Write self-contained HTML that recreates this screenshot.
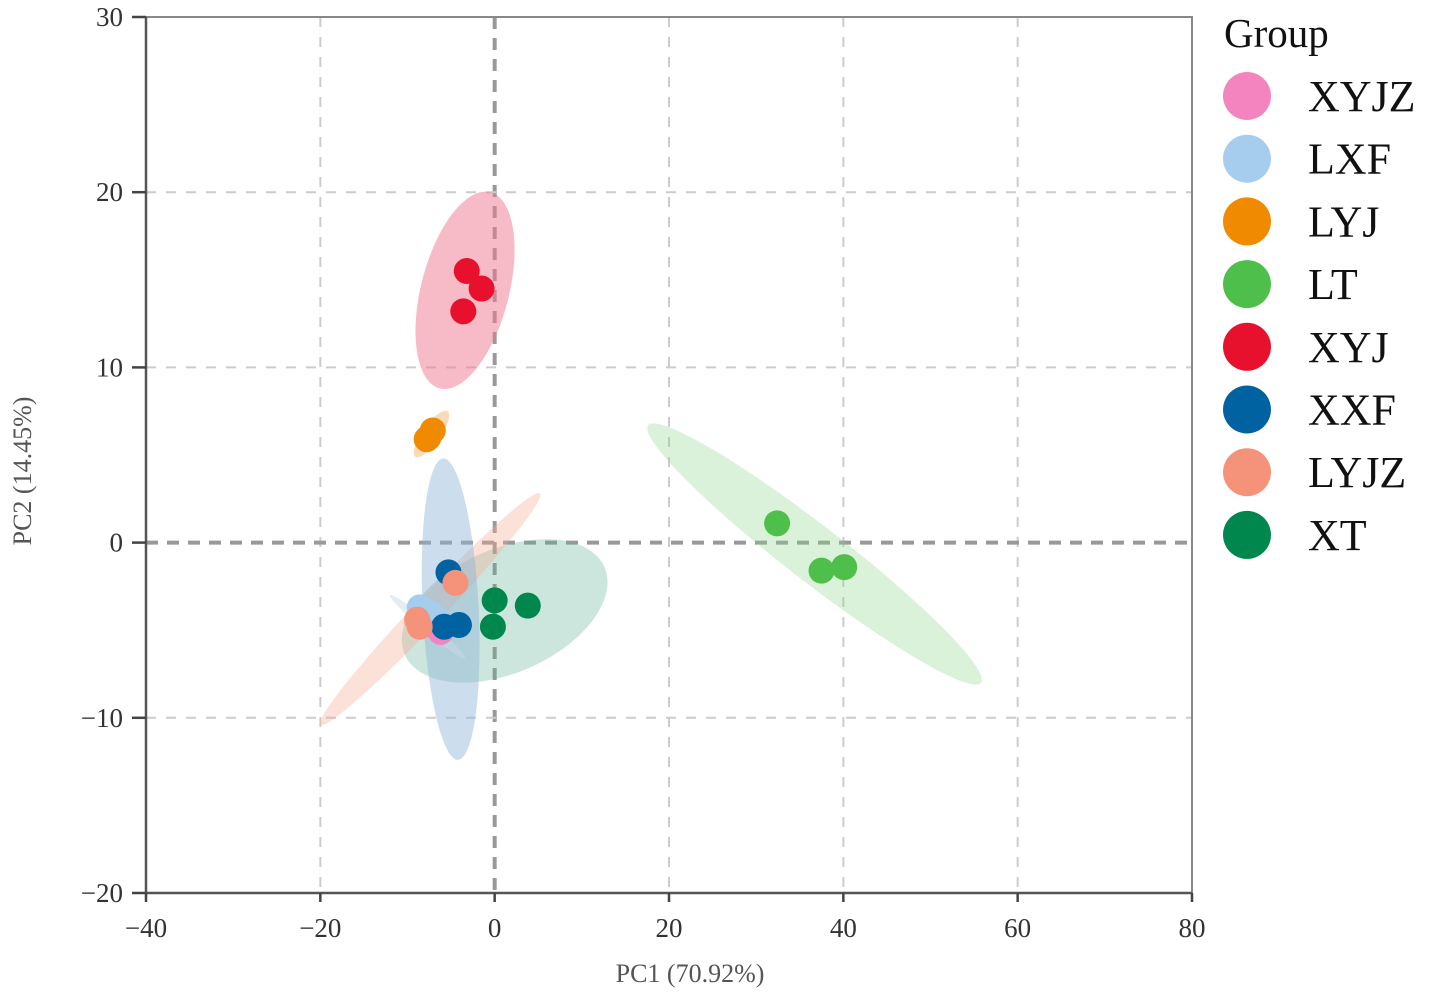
<!DOCTYPE html>
<html><head><meta charset="utf-8"><style>
html,body{margin:0;padding:0;background:#fff;}
svg{display:block;font-family:"Liberation Serif",serif;}
</style></head><body>
<svg id="chart" width="1429" height="997" xmlns="http://www.w3.org/2000/svg">
<g id="grid"></g>
<g id="ellipses"></g>
<g id="points"></g>
<g id="axes"></g>
<g id="legend"></g>
<text x="690" y="982" font-size="26" fill="#555" text-anchor="middle">PC1 (70.92%)</text>
<text transform="translate(31,471) rotate(-90)" font-size="26" fill="#555" text-anchor="middle">PC2 (14.45%)</text>
</svg>
<script>
const groups = ["XYJZ","LXF","LYJ","LT","XYJ","XXF","LYJZ","XT"];
const colors = ["#f484c0","#a6cdee","#f08a00","#4dbf4a","#e8112d","#0062a1","#f5937a","#00874e"];
const ellColors = ["#c9d9ea","#8db4d6","#f5b060","#8fd88c","#f07890","#0062a1","#f5a890","#5fb095"];
const ellOpacity = [0.5,0.45,0.45,0.32,0.5,0.3,0.35,0.32];
const xTicks = [-40,-20,0,20,40,60,80];
const yTicks = [-20,-10,0,10,20,30];
// points per group: [pc1, pc2]
const ptsXYJZ = [[-6.2,-5.1],[-6.8,-4.8],[-6.5,-4.6]];
const ptsLXF = [[-8.6,-3.7],[-7.5,-4.0],[-6.5,-4.4]];
const ptsLYJ = [[-7.8,5.9],[-7.6,6.0],[-7.1,6.4]];
const ptsLT = [[32.4,1.1],[37.5,-1.6],[40.1,-1.4]];
const ptsXYJ = [[-3.2,15.5],[-1.5,14.5],[-3.6,13.2]];
const ptsXXF = [[-5.3,-1.7],[-5.8,-4.8],[-4.1,-4.7]];
const ptsLYJZ = [[-8.9,-4.4],[-8.6,-4.8],[-4.5,-2.3]];
const ptsXT = [[0,-3.3],[3.8,-3.6],[-0.2,-4.8]];
// ellipses: long-axis endpoints in data units
const ellXYJZ = [[-12.0,-3.0],[-3.4,-6.6]];
const ellLXF = [[-5.9,4.8],[-4.2,-12.4]];
const ellLYJ = [[-5.4,7.5],[-9.1,4.9]];
const ellLT = [[17.6,6.7],[55.8,-8.0]];
const ellXYJ = [[-0.5,20.0],[-6.3,8.8]];
const ellLYJZ = [[5.2,2.8],[-20.0,-10.4]];
const ellXT = [[-10.3,-6.4],[12.6,-1.4]];
const ellHalfWidth = [5,28,9,28,44,0,14,62];

const NS="http://www.w3.org/2000/svg";
const X0=146,X1=1192,Y0=893,Y1=17;
function sx(v){return X0+(v+40)/120*(X1-X0);}
function sy(v){return Y0-(v+20)/50*(Y0-Y1);}
function mk(tag,attrs,parent){const e=document.createElementNS(NS,tag);for(const k in attrs)e.setAttribute(k,attrs[k]);parent.appendChild(e);return e;}
const grid=document.getElementById('grid'),ellG=document.getElementById('ellipses'),ptG=document.getElementById('points'),ax=document.getElementById('axes'),lg=document.getElementById('legend');

xTicks.forEach(t=>{if(t===-40||t===80)return;
 const l=mk('line',{x1:sx(t),x2:sx(t),y1:Y1,y2:Y0,stroke:t===0?'#999':'#ccc','stroke-width':t===0?4:2,'stroke-dasharray':t===0?'12,9':'10,10'},grid);
 
 });
yTicks.forEach(t=>{if(t===-20||t===30)return;
 const l=mk('line',{x1:X0,x2:X1,y1:sy(t),y2:sy(t),stroke:t===0?'#999':'#ccc','stroke-width':t===0?4:2,'stroke-dasharray':t===0?'12,9':'10,10'},grid);
 
 });

const allEll=[ellXYJZ,ellLXF,ellLYJ,ellLT,ellXYJ,ellLYJZ,ellXT];
const ellIdx=[0,1,2,3,4,6,7];
const ellOrder=[6,5,1,2,4,3,0];
ellOrder.forEach(i=>{const e=allEll[i];const gi=ellIdx[i];
 const ax1=sx(e[0][0]),ay1=sy(e[0][1]),ax2=sx(e[1][0]),ay2=sy(e[1][1]);
 const cx=(ax1+ax2)/2,cy=(ay1+ay2)/2,len=Math.hypot(ax2-ax1,ay2-ay1)/2,ang=Math.atan2(ay2-ay1,ax2-ax1)*180/Math.PI;
 const el=mk('ellipse',{cx:cx,cy:cy,rx:len,ry:ellHalfWidth[gi],fill:ellColors[gi],'fill-opacity':ellOpacity[gi],transform:`rotate(${ang} ${cx} ${cy})`},ellG);
 
 });

const allPts=[ptsXYJZ,ptsLXF,ptsLYJ,ptsLT,ptsXYJ,ptsXXF,ptsLYJZ,ptsXT];
const drawOrder=[0,1,2,3,4,7,5,6];
drawOrder.forEach(gi=>{allPts[gi].forEach(p=>{
 const c=mk('circle',{cx:sx(p[0]),cy:sy(p[1]),r:13,fill:colors[gi]},ptG);
 
 });});

mk('rect',{x:X0,y:Y1,width:X1-X0,height:Y0-Y1,fill:'none',stroke:'#888','stroke-width':2},ax);
mk('line',{x1:X0,x2:X0,y1:Y1,y2:Y0,stroke:'#555','stroke-width':2.5},ax);
mk('line',{x1:X0,x2:X1,y1:Y0,y2:Y0,stroke:'#555','stroke-width':2.5},ax);
xTicks.forEach(t=>{mk('line',{x1:sx(t),x2:sx(t),y1:Y0,y2:Y0+9,stroke:'#444','stroke-width':2.5},ax);
 const tx=mk('text',{x:sx(t),y:937,'font-size':27,fill:'#333','text-anchor':'middle'},ax);
 tx.textContent=(t<0?'\u2212'+(-t):t);
 
 });
yTicks.forEach(t=>{mk('line',{x1:X0-14,x2:X0,y1:sy(t),y2:sy(t),stroke:'#444','stroke-width':2.5},ax);
 const tx=mk('text',{x:123,y:sy(t)+9,'font-size':27,fill:'#333','text-anchor':'end'},ax);
 tx.textContent=(t<0?'\u2212'+(-t):t);
 
 });

const lt=mk('text',{x:1224,y:47,'font-size':41,fill:'#111'},lg);
lt.textContent='Group';


groups.forEach((g,i)=>{const y=96+i*62.7;
 const c=mk('circle',{cx:1247,cy:y,r:24,fill:colors[i]},lg);
 
 
 const t=mk('text',{x:1308,y:y+15,'font-size':44,fill:'#111'},lg);
 t.textContent=g;
 
 });
</script>
</body></html>
